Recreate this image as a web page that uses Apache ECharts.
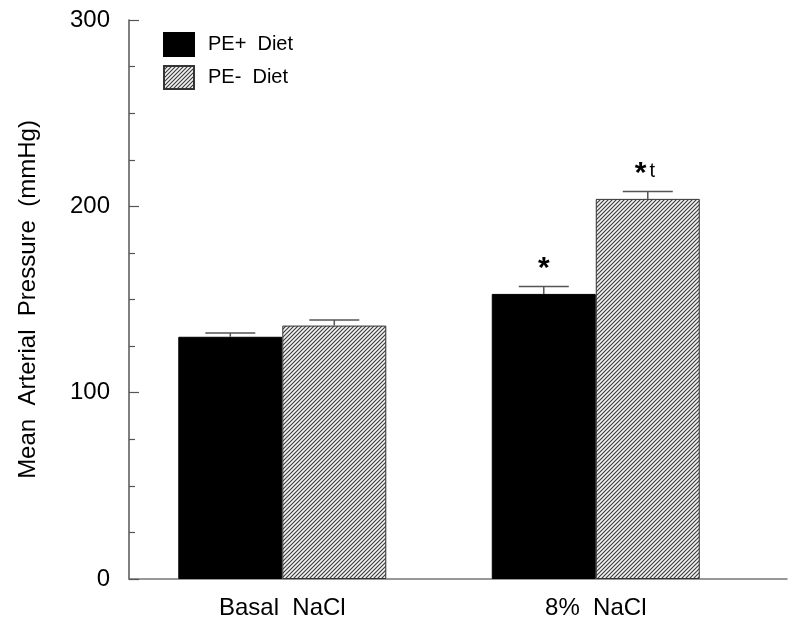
<!DOCTYPE html>
<html><head><meta charset="utf-8">
<script src="https://cdn.jsdelivr.net/npm/echarts@6/dist/echarts.min.js"></script>
<style>html,body{margin:0;padding:0;background:#fff}#c{width:800px;height:630px}</style>
</head><body><div id="c"></div>
<script>
const categories = ['Basal  NaCl', '8%  NaCl'];
const categoryPos = [1, 2];
const peLabel = 'PE+  Diet';
const pmLabel = 'PE-  Diet';
const pePlus = [130, 153];
const pePlusErr = [2, 4];
const peMinus = [136, 204];
const peMinusErr = [3, 4];
const pePlusMarks = ['', '*'];
const peMinusMarks = ['', '*t'];
const yTicks = [0, 100, 200, 300];

function hatch() {
  const c = document.createElement('canvas');
  c.width = 4; c.height = 4;
  const g = c.getContext('2d');
  g.fillStyle = '#f2f2f2'; g.fillRect(0, 0, 4, 4);
  g.strokeStyle = '#3a3a3a'; g.lineWidth = 1.1;
  g.beginPath();
  g.moveTo(-1, 5); g.lineTo(5, -1);
  g.moveTo(-1, 1); g.lineTo(1, -1);
  g.moveTo(3, 5); g.lineTo(5, 3);
  g.stroke();
  return c;
}
const pattern = { image: hatch(), repeat: 'repeat' };
const font = 'Liberation Sans, Arial, sans-serif';
const BW = 104;

function errSeries(vals, errs, marks, offset) {
  return {
    type: 'custom',
    silent: true,
    z: 5,
    data: categoryPos.map((p, i) => [p, vals[i], errs[i]]),
    renderItem: function (params, api) {
      const x = api.value(0), v = api.value(1), e = api.value(2);
      const mark = marks[params.dataIndex];
      const base = api.coord([x, v]);
      const top = api.coord([x, v + e]);
      const cx = base[0] + offset;
      const half = 25;
      const children = [
        { type: 'line', shape: { x1: cx, y1: base[1], x2: cx, y2: top[1] }, style: { stroke: '#555', lineWidth: 1.5 } },
        { type: 'line', shape: { x1: cx - half, y1: top[1], x2: cx + half, y2: top[1] }, style: { stroke: '#555', lineWidth: 1.5 } }
      ];
      if (mark) {
        const two = mark.length > 1;
        children.push({ type: 'text', x: two ? cx - 13 : cx, y: top[1] - 3,
          style: { text: two ? '{a|*}{b|t}' : '{a|*}', align: two ? 'left' : 'center', verticalAlign: 'bottom',
            rich: { a: { fontSize: 30, fontWeight: 'bold', fontFamily: font, fill: '#000', lineHeight: 30 },
                    b: { fontSize: 20, fontFamily: font, fill: '#000', padding: [0, 0, 4, 3] } } } });
      }
      return { type: 'group', children: children };
    }
  };
}

const chart = echarts.init(document.getElementById('c'));
chart.setOption({
  animation: false,
  backgroundColor: '#fff',
  grid: { left: 129, right: 13, top: 20, bottom: 51 },
  legend: {
    orient: 'vertical', left: 158, top: 27, itemWidth: 30, itemHeight: 23, itemGap: 8,
    icon: 'rect',
    textStyle: { fontSize: 20, fontFamily: font, color: '#000', padding: [0, 0, 0, 9] },
    data: [peLabel, pmLabel]
  },
  xAxis: {
    type: 'value', min: 0.511, max: 2.61,
    axisLine: { lineStyle: { color: '#777', width: 1.5 } },
    axisTick: { show: false },
    splitLine: { show: false },
    axisLabel: {
      customValues: categoryPos,
      formatter: v => categories[categoryPos.indexOf(Math.round(v))] || '',
      fontSize: 24, fontFamily: font, color: '#000', margin: 17
    }
  },
  yAxis: {
    type: 'value', min: 0, max: 300, interval: 100,
    name: 'Mean  Arterial  Pressure  (mmHg)', nameLocation: 'middle', nameGap: 89,
    nameTextStyle: { fontSize: 24, fontFamily: font, color: '#000' },
    axisLine: { show: true, lineStyle: { color: '#555', width: 1.5 } },
    axisTick: { show: true, inside: true, length: 10, lineStyle: { color: '#555', width: 1.2 } },
    minorTick: { show: true, splitNumber: 4, length: 6, lineStyle: { color: '#555', width: 1.2 } },
    splitLine: { show: false },
    axisLabel: { fontSize: 24, fontFamily: font, color: '#000', margin: 19,
      formatter: v => yTicks.includes(v) ? String(v) : '' }
  },
  series: [
    { name: peLabel, type: 'bar', barWidth: BW, barGap: '0%',
      data: categoryPos.map((p, i) => [p, pePlus[i]]),
      itemStyle: { color: '#000', borderColor: '#000', borderWidth: 1 } },
    { name: pmLabel, type: 'bar', barWidth: BW, barGap: '0%',
      data: categoryPos.map((p, i) => [p, peMinus[i]]),
      itemStyle: { color: pattern, borderColor: '#333', borderWidth: 1 } },
    errSeries(pePlus, pePlusErr, pePlusMarks, -BW / 2),
    errSeries(peMinus, peMinusErr, peMinusMarks, BW / 2)
  ]
});
</script></body></html>
